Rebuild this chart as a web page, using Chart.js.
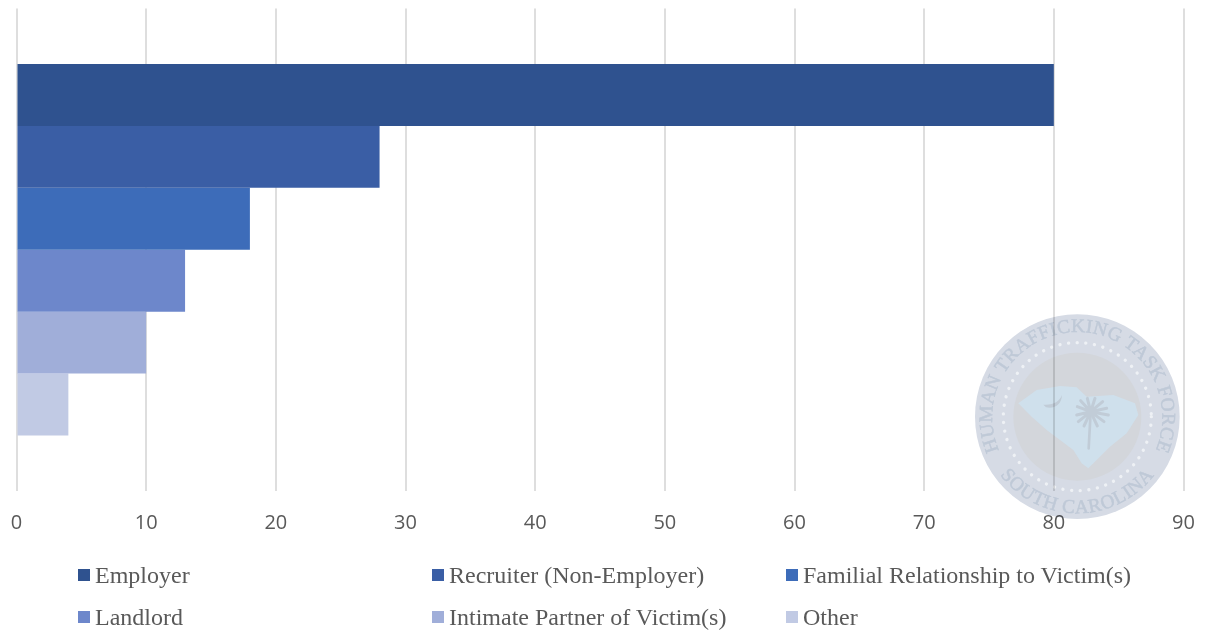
<!DOCTYPE html>
<html><head><meta charset="utf-8">
<script src="https://cdn.jsdelivr.net/npm/chart.js@4"></script>
<style>
html,body{margin:0;padding:0;background:#fff;width:1206px;height:633px;overflow:hidden}
#wrap{position:relative;width:1206px;height:633px}
#c{position:absolute;left:0;top:0}
#seal{position:absolute;left:960px;top:300px;width:246px;height:240px;mix-blend-mode:multiply}
.lg{position:absolute;font:24px "Liberation Serif",serif;color:#595959;white-space:nowrap;line-height:28px;height:28px}
.lg i{position:absolute;left:0;top:8px;width:12px;height:12px}
.lg span{position:absolute;left:17px;top:0}
</style></head><body>
<div id="wrap">
<canvas id="c" width="1206" height="633"></canvas>
<svg id="seal" viewBox="0 0 738 720" xmlns="http://www.w3.org/2000/svg">
  <defs>
    <path id="arcTop" d="M 113 440 A 255 255 0 1 1 591 440"/>
    <path id="arcBot" d="M 93 480 A 290 290 0 0 0 611 480"/>
  </defs>
  <circle cx="352" cy="350" r="307" fill="#d6dbe5"/>
  <circle cx="352" cy="350" r="192" fill="#d3d6db"/>
  <circle cx="352" cy="350" r="222" fill="none" stroke="#eef1f5" stroke-width="10" stroke-linecap="round" stroke-dasharray="0.1 26"/>
  <path d="M175 310 L230 270 L300 258 L350 262 L380 290 L460 285 L525 310 L535 345 L500 400 L450 440 L410 480 L385 505 L365 490 L340 450 L300 420 L260 390 L215 350 Z" fill="#cfe0ec"/>
  <path d="M258 322 C285 328 305 312 306 285 C298 305 280 316 250 314 Z" fill="#c1ccd7"/>
  <g stroke="#c1ccd7" fill="none" stroke-linecap="round">
    <path d="M392 335 L386 445" stroke-width="8"/>
    <path d="M392 335 L350 345 M392 335 L352 320 M392 335 L362 302 M392 335 L382 295 M392 335 L405 295 M392 335 L428 305 M392 335 L440 325 M392 335 L445 345 M392 335 L432 365 M392 335 L412 378 M392 335 L372 378 M392 335 L355 365" stroke-width="9"/>
  </g>
  <g fill="#bfc9d7" stroke="#bfc9d7" stroke-width="1.5" font-family="Liberation Serif, serif" font-size="58">
    <text letter-spacing="1"><textPath href="#arcTop" startOffset="50%" text-anchor="middle">HUMAN TRAFFICKING TASK FORCE</textPath></text>
    <text letter-spacing="2"><textPath href="#arcBot" startOffset="50%" text-anchor="middle">SOUTH CAROLINA</textPath></text>
  </g>
</svg>
<div id="legend"></div>
</div>
<script>
const categories = ["Perpetrator relationship"];
const seriesNames = ["Employer","Recruiter (Non-Employer)","Familial Relationship to Victim(s)","Landlord","Intimate Partner of Victim(s)","Other"];
const seriesValues = [80,28,18,13,10,4];
const seriesColors = ["#2f528f","#3a5ea5","#3d6cb9","#6d87cb","#a0aed9","#c1cae4"];
const xTicks = [0,10,20,30,40,50,60,70,80,90];
const legendX = [78,432,786];
const legendY = [561,603];

new Chart(document.getElementById('c'),{
  type:'bar',
  data:{labels:categories,datasets:seriesNames.map((n,i)=>({label:n,data:[seriesValues[i]],backgroundColor:seriesColors[i],borderWidth:0}))},
  options:{
    indexAxis:'y',responsive:false,animation:false,
    categoryPercentage:0.77,barPercentage:1,
    layout:{padding:{left:16.5,right:22.5,top:8.5,bottom:78}},
    plugins:{legend:{display:false},tooltip:{enabled:false}},
    scales:{
      x:{min:0,max:90,afterBuildTicks:a=>{a.ticks=xTicks.map(v=>({value:v}))},
        afterFit:s=>{s.paddingLeft=0;s.paddingRight=0},
        border:{display:false},
        grid:{color:'#dedede',lineWidth:2,drawTicks:false},
        ticks:{color:'#595959',padding:20,maxRotation:0,autoSkip:false,font:{family:'"Open Sans"',size:20}}},
      y:{display:false}
    }
  }
});
const lg=document.getElementById('legend');
seriesNames.forEach((n,i)=>{
  const d=document.createElement('div');d.className='lg';
  d.style.left=legendX[i%3]+'px';d.style.top=legendY[Math.floor(i/3)]+'px';
  d.innerHTML='<i style="background:'+seriesColors[i]+'"></i><span>'+n+'</span>';
  lg.appendChild(d);
});
</script>
</body></html>
